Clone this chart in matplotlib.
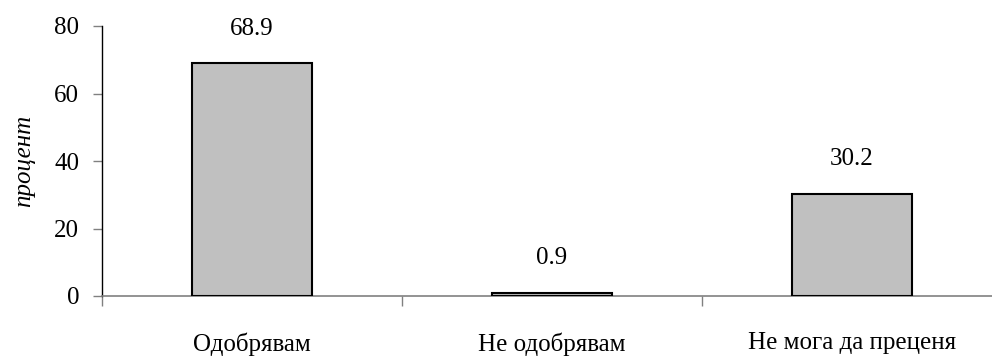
import numpy as np
import matplotlib.pyplot as plt

plt.rcParams['font.family'] = ['Liberation Serif', 'DejaVu Serif']

categories = ['Одобрявам', 'Не одобрявам', 'Не мога да преценя']
values = [68.9, 0.9, 30.2]
y_ticks = [0, 20, 40, 60, 80]

fs = 18

fig = plt.figure(figsize=(9.92, 3.6), dpi=100)
# axes runs a bit past the right edge, as in the original
ax = fig.add_axes([102 / 992, 64 / 360, 900 / 992, 270 / 360])

x = np.arange(len(categories))
ax.bar(x, values, width=0.4, color='#c0c0c0', edgecolor='black', linewidth=1.5, zorder=3)

for xi, v in zip(x, values):
    ax.annotate(f'{v:.1f}', (xi, v), xytext=(0, 25), textcoords='offset points',
                ha='center', va='center', fontsize=fs)

ax.set_xlim(-0.5, 2.5)
ax.set_ylim(0, 80)
ax.set_yticks(y_ticks)
ax.set_xticks([-0.5, 0.5, 1.5, 2.5])
ax.set_xticklabels([])
ax.set_xticks(x, minor=True)
ax.set_xticklabels(categories, minor=True, fontsize=fs)
ax.tick_params(axis='x', which='minor', length=0, pad=26)
ax.tick_params(axis='x', which='major', length=7, width=1, color='#808080')
ax.tick_params(axis='y', length=6.5, width=1, color='#808080', labelsize=fs, pad=10)

ax.spines['top'].set_visible(False)
ax.spines['right'].set_visible(False)
ax.spines['left'].set_color('black')
ax.spines['left'].set_linewidth(1)
ax.spines['bottom'].set_color('#808080')
ax.spines['bottom'].set_linewidth(1.2)

ax.set_ylabel('процент', fontsize=fs, style='italic')
ax.yaxis.set_label_coords(-0.086, 0.5)
ax.yaxis.label.set_va('center')

fig.savefig('out.png', dpi=100)
